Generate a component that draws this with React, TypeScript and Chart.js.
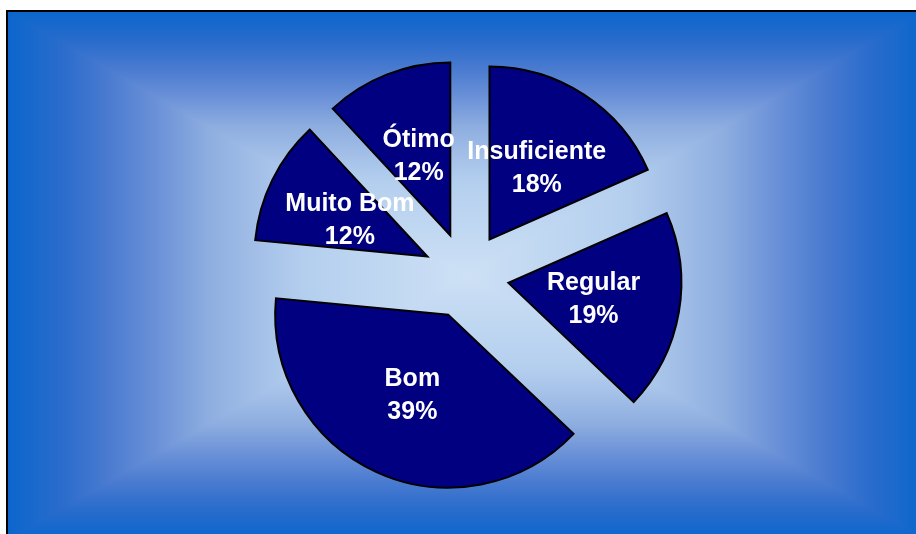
import React, { useEffect, useRef } from "react";
import { Chart, registerables } from "chart.js";

Chart.register(...registerables);

// ---- Data ----
const categories = ["Insuficiente", "Regular", "Bom", "Muito Bom", "Ótimo"];
const values = [18.4, 18.7, 39.4, 11.6, 11.9];
const sliceColors = ["#000080", "#000080", "#000080", "#000080", "#000080"];

const FRAME = { x0: 7, y0: 11, x1: 925, y1: 540 };
const GRAD_STOPS: [number, string][] = [
  [0, "#0a66cc"],
  [0.12, "#2a6ccc"],
  [0.22, "#4a7bd0"],
  [0.33, "#6c92d8"],
  [0.44, "#8eaee0"],
  [0.55, "#a4c0e8"],
  [0.65, "#b4cfee"],
  [1, "#cde0f5"],
];

const backgroundPlugin = {
  id: "rectGradientBg",
  beforeDraw(chart: any) {
    const ctx: CanvasRenderingContext2D = chart.ctx;
    const { x0, y0, x1, y1 } = FRAME;
    const cx = (x0 + x1) / 2;
    const cy = (y0 + y1) / 2;
    ctx.save();
    ctx.fillStyle = "#ffffff";
    ctx.fillRect(0, 0, chart.width, chart.height);
    const grad = (gx0: number, gy0: number) => {
      const g = ctx.createLinearGradient(gx0, gy0, cx, cy);
      GRAD_STOPS.forEach(([o, c]) => g.addColorStop(o, c));
      return g;
    };
    // left / right halves (horizontal gradient)
    ctx.fillStyle = grad(x0, cy);
    ctx.fillRect(x0, y0, cx - x0 + 1, y1 - y0);
    ctx.fillStyle = grad(x1, cy);
    ctx.fillRect(cx, y0, x1 - cx, y1 - y0);
    // top / bottom triangles (vertical gradient) drawn over
    const tri = (ax: number, ay: number, bx: number, by: number, g: CanvasGradient) => {
      ctx.beginPath();
      ctx.moveTo(ax, ay);
      ctx.lineTo(bx, by);
      ctx.lineTo(cx, cy);
      ctx.closePath();
      ctx.fillStyle = g;
      ctx.fill();
    };
    tri(x0, y0, x1, y0, grad(cx, y0));
    tri(x0, y1, x1, y1, grad(cx, y1));
    // frame border
    ctx.fillStyle = "#000000";
    ctx.fillRect(x0 - 1, y0 - 1, x1 - x0 + 2, 2);
    ctx.fillRect(x0 - 1, y0 - 1, 2, y1 - y0 + 2);
    ctx.fillRect(x1 - 1, y0 - 1, 2, y1 - y0 + 2);
    ctx.fillRect(x0 - 1, y1 - 1, x1 - x0 + 2, 2);
    ctx.restore();
  },
};

const explodePlugin = {
  id: "explodeSlices",
  afterUpdate(chart: any, _args: any, opts: any) {
    const d = (opts && opts.distance) || 0;
    const meta = chart.getDatasetMeta(0);
    meta.data.forEach((arc: any) => {
      const mid = (arc.startAngle + arc.endAngle) / 2;
      arc.x += Math.cos(mid) * d;
      arc.y += Math.sin(mid) * d;
    });
  },
};

const labelPlugin = {
  id: "sliceLabels",
  afterDatasetsDraw(chart: any) {
    const ctx: CanvasRenderingContext2D = chart.ctx;
    const meta = chart.getDatasetMeta(0);
    const data: number[] = chart.data.datasets[0].data;
    const total = data.reduce((a, b) => a + b, 0);
    ctx.save();
    ctx.font = "bold 25px 'Liberation Sans', Arial, sans-serif";
    ctx.fillStyle = "#ffffff";
    ctx.textAlign = "center";
    ctx.textBaseline = "middle";
    meta.data.forEach((arc: any, i: number) => {
      const p = arc.getCenterPoint();
      const pct = Math.round((data[i] / total) * 100) + "%";
      ctx.fillText(String(chart.data.labels[i]), p.x, p.y - 14.5);
      ctx.fillText(pct, p.x, p.y + 18.5);
    });
    ctx.restore();
  },
};

export default function App() {
  const ref = useRef<HTMLCanvasElement | null>(null);
  useEffect(() => {
    if (!ref.current) return;
    const chart = new Chart(ref.current, {
      type: "pie",
      data: {
        labels: categories,
        datasets: [
          {
            data: values,
            backgroundColor: sliceColors,
            borderColor: "#000000",
            borderWidth: 2,
            borderJoinStyle: "miter",
            radius: 173,
          } as any,
        ],
      },
      options: {
        animation: false,
        responsive: false,
        events: [],
        layout: { padding: { left: 16, right: 0, top: 17, bottom: 0 } },
        plugins: {
          legend: { display: false },
          tooltip: { enabled: false },
          explodeSlices: { distance: 43 },
        } as any,
      },
      plugins: [backgroundPlugin, explodePlugin, labelPlugin],
    });
    return () => chart.destroy();
  }, []);
  return (
    <div style={{ position: "fixed", left: 0, top: 0, width: 916, height: 534 }}>
      <canvas ref={ref} width={916} height={534} style={{ display: "block" }} />
    </div>
  );
}
